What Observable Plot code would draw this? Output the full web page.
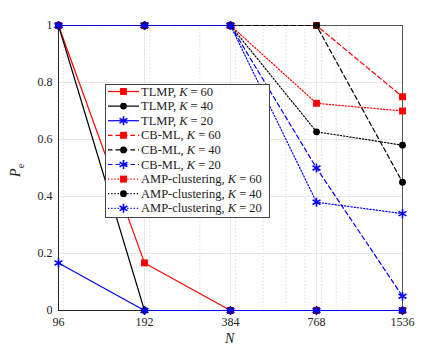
<!DOCTYPE html>
<html><head><meta charset="utf-8">
<script src="https://cdn.jsdelivr.net/npm/d3@7"></script>
<script src="https://cdn.jsdelivr.net/npm/@observablehq/plot@0.6"></script>
<style>
body{margin:0;background:#fff;}
#wrap{position:relative;width:443px;height:349px;font-family:"Liberation Serif","DejaVu Serif",serif;}
#wrap svg text{font-family:"Liberation Serif","DejaVu Serif",serif;}
.lab{position:absolute;font-family:"Liberation Serif",serif;font-size:14px;line-height:16px;color:#222;}
</style></head>
<body><div id="wrap"></div>
<script>
const N = [96, 192, 384, 768, 1536];
const yTicks = [0, 0.2, 0.4, 0.6, 0.8, 1];
const minorN = [100, 200, 300, 400, 500, 600, 700, 800, 900, 1000];

const tlmp60 = [1, 0.167, 0, 0, 0];
const tlmp40 = [1, 0, 0, 0, 0];
const tlmp20 = [0.167, 0, 0, 0, 0];
const cbml60 = [1, 1, 1, 1, 0.75];
const cbml40 = [1, 1, 1, 1, 0.45];
const cbml20 = [1, 1, 1, 0.5, 0.05];
const amp60 = [1, 1, 1, 0.727, 0.70];
const amp40 = [1, 1, 1, 0.627, 0.58];
const amp20 = [1, 1, 1, 0.38, 0.34];

const DASH = "4.5,3", DOT = "1.3,1.9";
const series = [
  {name:"TLMP", K:60, v:tlmp60, color:"#ff0000", dash:null, sym:"square"},
  {name:"TLMP", K:40, v:tlmp40, color:"#000000", dash:null, sym:"circle"},
  {name:"TLMP", K:20, v:tlmp20, color:"#0000ff", dash:null, sym:"asterisk"},
  {name:"CB-ML", K:60, v:cbml60, color:"#ff0000", dash:DASH, sym:"square"},
  {name:"CB-ML", K:40, v:cbml40, color:"#000000", dash:DASH, sym:"circle"},
  {name:"CB-ML", K:20, v:cbml20, color:"#0000ff", dash:DASH, sym:"asterisk"},
  {name:"AMP-clustering", K:60, v:amp60, color:"#ff0000", dash:DOT, sym:"square"},
  {name:"AMP-clustering", K:40, v:amp40, color:"#000000", dash:DOT, sym:"circle"},
  {name:"AMP-clustering", K:20, v:amp20, color:"#0000ff", dash:DOT, sym:"asterisk"}
];

const marks = [
  Plot.ruleX(minorN, {stroke:"#d6d6d6", strokeDasharray:"1.5,2", strokeWidth:0.8}),
  Plot.ruleX(N, {stroke:"#e2e2e2", strokeWidth:0.8}),
  Plot.ruleY(yTicks, {stroke:"#e2e2e2", strokeWidth:0.8}),
  Plot.frame({stroke:"#555", strokeWidth:1}),
  Plot.ruleX([96], {stroke:"#222"}),
  Plot.ruleY([0], {stroke:"#222"}),
  Plot.axisX({ticks:N, tickFormat:d=>String(d), tickSize:0, tickPadding:7, fontSize:12, label:null}),
  Plot.axisY({ticks:yTicks, tickFormat:d=>String(+d.toFixed(1)), tickSize:0, tickPadding:6, fontSize:12, label:null})
];
for (const s of series) {
  const data = N.map((n,i)=>({n, p:s.v[i]}));
  marks.push(Plot.line(data, {x:"n", y:"p", stroke:s.color, strokeWidth:1.2, strokeDasharray:s.dash}));
  const r = s.sym==="square"?3.9:(s.sym==="circle"?3.4:4.3);
  if (s.sym==="asterisk")
    marks.push(Plot.dot(data, {x:"n", y:"p", symbol:"asterisk", r, stroke:s.color, strokeWidth:1.6}));
  else
    marks.push(Plot.dot(data, {x:"n", y:"p", symbol:s.sym, r, fill:s.color, stroke:"none"}));
}

const chart = Plot.plot({
  width:443, height:349,
  marginLeft:58, marginRight:41, marginTop:25, marginBottom:39,
  style:{fontFamily:"Liberation Serif, serif", fontSize:"12px", color:"#222"},
  x:{type:"log", domain:[96,1536]},
  y:{domain:[0,1]},
  marks
});
const wrap = document.getElementById("wrap");
wrap.appendChild(chart);

// Axis labels
const xl = document.createElement("div");
xl.className="lab"; xl.innerHTML="<i>N</i>";
xl.style.left="225px"; xl.style.top="331px";
wrap.appendChild(xl);
const yl = document.createElement("div");
yl.className="lab"; yl.innerHTML="<i>P</i><sub style='font-size:10px'>e</sub>";
yl.style.left="12px"; yl.style.top="160px"; yl.style.transform="rotate(-90deg)";
wrap.appendChild(yl);

// Legend
const lx=105, ly=84, lw=164, lh=133;
const leg = d3.select(wrap).append("svg")
  .style("position","absolute").style("left",lx+"px").style("top",ly+"px")
  .attr("width",lw+1).attr("height",lh+1);
leg.append("rect").attr("x",0.5).attr("y",0.5).attr("width",lw).attr("height",lh)
  .attr("fill","#fff").attr("stroke","#444").attr("stroke-width",1);
const symMap = {square:d3.symbolSquare, circle:d3.symbolCircle, asterisk:d3.symbolAsterisk};
series.forEach((s,i)=>{
  const y = 7.5 + i*14.6;
  leg.append("line").attr("x1",3).attr("x2",34).attr("y1",y).attr("y2",y)
    .attr("stroke",s.color).attr("stroke-width",1.2).attr("stroke-dasharray",s.dash);
  const r = s.sym==="square"?3.9:(s.sym==="circle"?3.4:4.3);
  const p = leg.append("path").attr("d", d3.symbol(symMap[s.sym], Math.PI*r*r)())
    .attr("transform",`translate(18.5,${y})`);
  if (s.sym==="asterisk") p.attr("fill","none").attr("stroke",s.color).attr("stroke-width",1.6);
  else p.attr("fill",s.color);
  const t = leg.append("text").attr("x",36).attr("y",y+4)
    .attr("font-size","12.5px").attr("fill","#222")
    .style("font-family","Liberation Serif, serif");
  t.append("tspan").text(s.name+", ");
  t.append("tspan").attr("font-style","italic").text("K");
  t.append("tspan").attr("dx",3).text("=");
  t.append("tspan").attr("dx",3).text(String(s.K));
});
</script>
</body></html>
